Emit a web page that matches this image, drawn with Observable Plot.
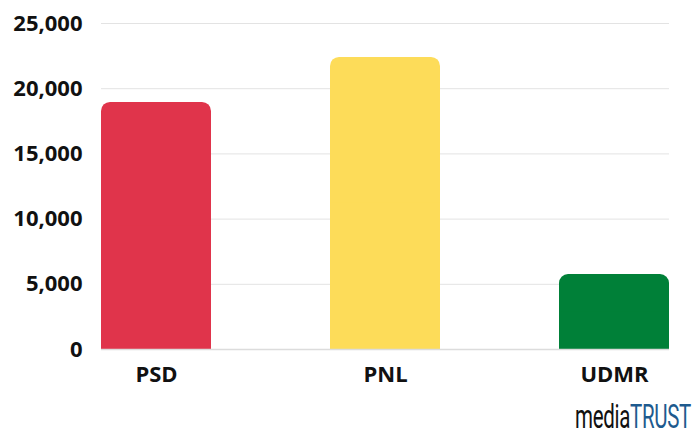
<!DOCTYPE html>
<html>
<head>
<meta charset="utf-8">
<script src="https://cdn.jsdelivr.net/npm/d3@7"></script>
<script src="https://cdn.jsdelivr.net/npm/@observablehq/plot@0.6"></script>
<style>
  html, body { margin: 0; padding: 0; background: #fff; }
  #wrap { position: relative; width: 694px; height: 435px; overflow: hidden; }
  #logo { position: absolute; left: 575px; top: 400px; font-family: Roboto, "Liberation Sans", sans-serif; font-size: 33px; letter-spacing: -0.5px; transform-origin: left top; white-space: nowrap; line-height: 1; display: inline-block; }
  #logo .a { color: #111; }
  #logo .b { color: #1d5a8e; }
</style>
</head>
<body>
<div id="wrap">
  <div id="chart"></div>
  <div id="logo"><span class="a">media</span><span class="b">TRUST</span></div>
</div>
<script>
const parties = ["PSD", "PNL", "UDMR"];
const votes = [18950, 22400, 5750];
const colors = ["#e0344b", "#fddc59", "#008038"];
const yTicks = [0, 5000, 10000, 15000, 20000, 25000];

const data = parties.map((p, i) => ({party: p, value: votes[i], color: colors[i]}));

const chart = Plot.plot({
  width: 694,
  height: 400,
  marginLeft: 101,
  marginRight: 25,
  marginTop: 23,
  marginBottom: 51,
  style: {fontFamily: "'Open Sans', sans-serif", fontSize: "22px", fontWeight: "bold", color: "#111", background: "#fff"},
  x: {domain: parties, paddingInner: 0.52, paddingOuter: 0, label: null, tickSize: 0, tickPadding: 17},
  y: {domain: [0, 25000], ticks: yTicks, tickFormat: d3.format(","), label: null, tickSize: 0, tickPadding: 19},
  marks: [
    Plot.ruleY(yTicks, {stroke: "#e3e3e3", strokeWidth: 1}),
    Plot.barY(data, {x: "party", y: "value", fill: "color", rx: 9}),
    Plot.barY(data, {x: "party", y1: 0, y2: d => d.value / 2, fill: "color"}),
    Plot.ruleY([0], {stroke: "#dcdcdc", strokeWidth: 1.5})
  ]
});
document.getElementById("chart").appendChild(chart);

// fit logo into its slot (116px wide, right edge at 691)
const logo = document.getElementById("logo");
const w = logo.getBoundingClientRect().width;
const s = 116 / w;
logo.style.transform = `scaleX(${s})`;
</script>
</body>
</html>
